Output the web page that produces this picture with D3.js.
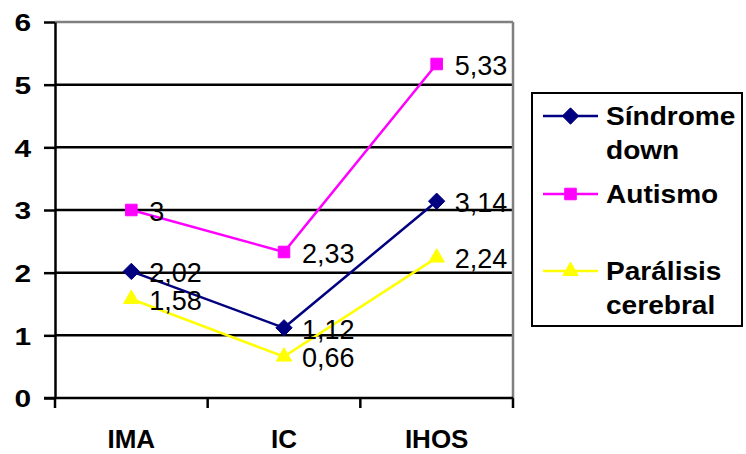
<!DOCTYPE html>
<html>
<head>
<meta charset="utf-8">
<script src="https://cdn.jsdelivr.net/npm/d3@7"></script>
<style>
  body { margin: 0; background: #fff; }
  svg { font-family: "Liberation Sans", Arial, sans-serif; }
</style>
</head>
<body>
<svg width="746" height="454"></svg>
<script>
var categories = ["IMA", "IC", "IHOS"];
var sindrome = [2.02, 1.12, 3.14];
var autismo = [3, 2.33, 5.33];
var paralisis = [1.58, 0.66, 2.24];
var seriesNames = [["Síndrome", "down"], ["Autismo"], ["Parálisis", "cerebral"]];
var yTicks = [0, 1, 2, 3, 4, 5, 6];

var series = [
  { name: seriesNames[0], values: sindrome, color: "#000080", symbol: d3.symbolDiamond2 },
  { name: seriesNames[1], values: autismo, color: "#ff00ff", symbol: d3.symbolSquare2 },
  { name: seriesNames[2], values: paralisis, color: "#ffff00", symbol: d3.symbolTriangle2 }
];

var svg = d3.select("svg");

var x = d3.scaleBand().domain(categories).range([55, 513]);
var y = d3.scaleLinear().domain([0, 6]).range([398, 22]);

// gridlines
svg.append("g").selectAll("line").data(yTicks.filter(d => d > 0))
  .enter().append("line")
    .attr("x1", 55).attr("x2", 513)
    .attr("y1", d => y(d)).attr("y2", d => y(d))
    .attr("stroke", d => d == 6 ? "#808080" : "#000")
    .attr("stroke-width", 2.5);

// right border of plot
svg.append("line")
  .attr("x1", 513).attr("x2", 513).attr("y1", y(6)).attr("y2", y(0))
  .attr("stroke", "#808080").attr("stroke-width", 2.5);

// y axis
var yAxis = svg.append("g")
  .attr("transform", "translate(55,0)")
  .call(d3.axisLeft(y).tickValues(yTicks).tickSize(11).tickSizeOuter(0).tickFormat(d3.format("d")));
yAxis.select(".domain").attr("stroke-width", 2.5);
yAxis.selectAll(".tick line").attr("stroke-width", 2.5);
yAxis.selectAll(".tick text")
  .attr("font-size", 23).attr("font-weight", "bold").attr("fill", "#000")
  .attr("font-family", "Liberation Sans, Arial, sans-serif")
  .attr("x", -24 / 1.3).attr("dy", "0.38em")
  .attr("transform", "scale(1.3,1)");

// x axis
svg.append("line")
  .attr("x1", 44).attr("x2", 513).attr("y1", y(0)).attr("y2", y(0))
  .attr("stroke", "#000").attr("stroke-width", 2.5);
var bounds = d3.range(categories.length + 1).map(i => x.range()[0] + i * x.step());
svg.append("g").selectAll("line").data(bounds)
  .enter().append("line")
    .attr("x1", d => d).attr("x2", d => d)
    .attr("y1", y(0)).attr("y2", y(0) + 10)
    .attr("stroke", "#000").attr("stroke-width", 2.5);
svg.append("g").selectAll("text").data(categories)
  .enter().append("text")
    .attr("x", d => x(d) + x.bandwidth() / 2)
    .attr("y", 448)
    .attr("text-anchor", "middle")
    .attr("font-size", 26).attr("font-weight", "bold")
    .text(d => d);

var line = d3.line()
  .x((d, i) => x(categories[i]) + x.bandwidth() / 2)
  .y(d => y(d));

var fmt = v => String(v).replace(".", ",");

series.forEach(s => {
  var g = svg.append("g");
  g.append("path")
    .attr("d", line(s.values))
    .attr("fill", "none")
    .attr("stroke", s.color)
    .attr("stroke-width", 2.5);
  g.selectAll("path.pt").data(s.values)
    .enter().append("path")
      .attr("class", "pt")
      .attr("transform", (d, i) => "translate(" + (x(categories[i]) + x.bandwidth() / 2) + "," + y(d) + ")")
      .attr("d", d3.symbol().type(s.symbol).size(170))
      .attr("fill", s.color)
      .attr("stroke", s.color)
      .attr("stroke-width", 1);
});

// value labels on top
series.forEach(s => {
  svg.append("g").selectAll("text").data(s.values)
    .enter().append("text")
      .attr("x", (d, i) => x(categories[i]) + x.bandwidth() / 2 + 18)
      .attr("y", d => y(d))
      .attr("dy", "0.4em")
      .attr("font-size", 27)
      .attr("fill", "#000")
      .text(d => fmt(d));
});

// legend
var legend = svg.append("g");
legend.append("rect")
  .attr("x", 532).attr("y", 93).attr("width", 210).attr("height", 233)
  .attr("fill", "#fff").attr("stroke", "#000").attr("stroke-width", 2);

var legendY = [116, 194, 271];
series.forEach((s, i) => {
  var ly = legendY[i];
  legend.append("line")
    .attr("x1", 543).attr("x2", 598).attr("y1", ly).attr("y2", ly)
    .attr("stroke", s.color).attr("stroke-width", 2.5);
  legend.append("path")
    .attr("transform", "translate(570.5," + ly + ")")
    .attr("d", d3.symbol().type(s.symbol).size(170))
    .attr("fill", s.color).attr("stroke", s.color);
  var t = legend.append("text")
    .attr("font-size", 26).attr("font-weight", "bold")
    .attr("transform", "translate(606," + (ly + 9) + ") scale(1.08,1)");
  s.name.forEach((w, j) => {
    t.append("tspan").attr("x", 0).attr("dy", j == 0 ? 0 : 34).text(w);
  });
});
</script>
</body>
</html>
